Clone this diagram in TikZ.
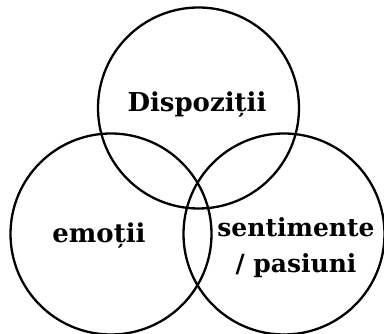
\documentclass[tikz,border=0pt]{standalone}
\usepackage{fontspec}
\setmainfont{DejaVu Serif}
\begin{document}
\begin{tikzpicture}[x=1pt,y=1pt,
  ring/.style={draw=black,line width=2.3pt,circle,minimum size=201pt,inner sep=0pt},
  lbl/.style={align=center,inner sep=0pt,font=\fontsize{26pt}{36pt}\selectfont\bfseries},
  lblsmall/.style={lbl,font=\fontsize{25pt}{36pt}\selectfont\bfseries}]
\useasboundingbox (0,0) rectangle (384,334);
\node[ring] (top) at (198.5,226) {};
\node[ring] (left) at (111,100) {};
\node[ring] (right) at (284,100) {};
\node[lbl,anchor=base] (t1) at (197,222) {Dispoziții};
\node[lbl,anchor=base] (t2) at (99,91) {emoții};
\node[lblsmall] (t3) at (296,86) {sentimente\\/ pasiuni};
\end{tikzpicture}
\end{document}
